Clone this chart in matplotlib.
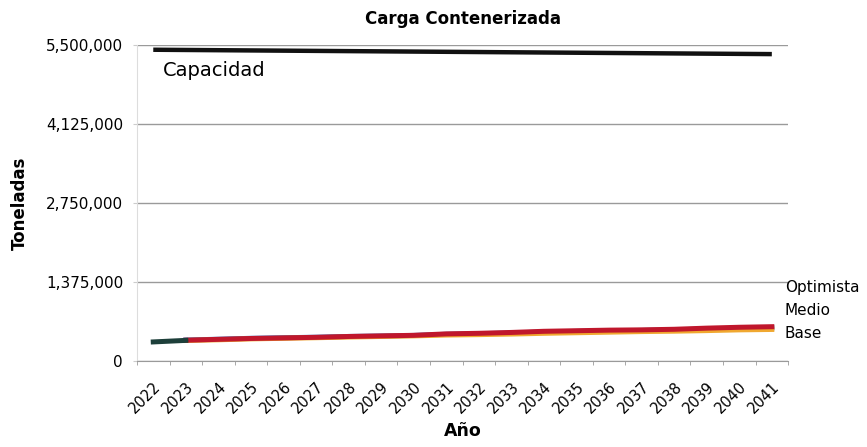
import matplotlib.pyplot as plt
from matplotlib.ticker import FuncFormatter

plt.rcParams['font.family'] = ['DejaVu Sans']

# Datos (toneladas)
anios = [str(a) for a in range(2022, 2042)]
capacidad = [5420000, 5416000, 5412000, 5408000, 5404000, 5400000, 5396000, 5392000,
             5388000, 5384000, 5380000, 5376000, 5372000, 5368000, 5364000, 5360000,
             5356000, 5352000, 5348000, 5344000]
historico = [335000, 362000]
optimista = [362000, 365000, 380000, 395000, 405000, 415000, 430000, 440000, 450000,
             475000, 485000, 500000, 520000, 530000, 540000, 545000, 555000, 575000,
             590000, 600000]
medio = [362000, 368000, 382000, 398000, 408000, 417000, 430000, 438000, 448000,
         468000, 478000, 490000, 508000, 518000, 528000, 535000, 545000, 560000,
         572000, 580000]
base = [362000, 360000, 372000, 388000, 398000, 408000, 420000, 430000, 440000,
        455000, 462000, 472000, 485000, 495000, 505000, 515000, 522000, 532000,
        545000, 552000]

x = list(range(len(anios)))

fig = plt.figure(figsize=(8.67, 4.47), dpi=100)
ax = fig.add_axes([0.158, 0.192, 0.751, 0.707])

ax.plot(x, capacidad, color='#111111', linewidth=3.2, solid_capstyle='butt')
ax.plot(x[1:], medio[1:], color='#2f6fbf', linewidth=3.6)
ax.plot(x[1:], base[1:], color='#f0a830', linewidth=3.6)
ax.plot(x[1:], optimista[1:], color='#c0172c', linewidth=3.6)
ax.plot(x[:2], historico, color='#1d3f3a', linewidth=3.6)

ax.set_xlim(-0.5, len(anios) - 0.5)
ax.set_ylim(0, 5500000)
ax.set_yticks([0, 1375000, 2750000, 4125000, 5500000])
ax.yaxis.set_major_formatter(FuncFormatter(lambda v, p: '{:,.0f}'.format(v)))
ax.grid(axis='y', color='#9a9a9a', linewidth=1)
ax.set_axisbelow(True)

ax.set_xticks(x)
ax.set_xticklabels(anios, rotation=45, ha='right', rotation_mode='anchor')
ax.set_xticks([i - 0.5 for i in range(len(anios) + 1)], minor=True)
ax.tick_params(axis='x', which='major', length=0, labelsize=10.5, pad=13)
ax.tick_params(axis='x', which='minor', length=3, color='#9a9a9a')
ax.tick_params(axis='y', length=3, color='#cccccc', labelsize=11, pad=7)

for s in ['top', 'right']:
    ax.spines[s].set_visible(False)
ax.spines['left'].set_color('#dddddd')
ax.spines['bottom'].set_color('#9a9a9a')

ax.set_title('Carga Contenerizada', fontsize=12, fontweight='bold', pad=15)
ax.set_ylabel('Toneladas', fontsize=12, fontweight='bold', labelpad=12)
ax.set_xlabel('Año', fontsize=12.5, fontweight='bold', labelpad=4)

ax.text(0.3, 5065000, 'Capacidad', fontsize=14, va='center')
tr = ax.get_yaxis_transform()
ax.text(0.995, 1288000, 'Optimista', transform=tr, fontsize=11, va='center', clip_on=False)
ax.text(0.995, 888000, 'Medio', transform=tr, fontsize=11, va='center', clip_on=False)
ax.text(0.995, 487000, 'Base', transform=tr, fontsize=11, va='center', clip_on=False)

fig.savefig('out.png', dpi=100)
